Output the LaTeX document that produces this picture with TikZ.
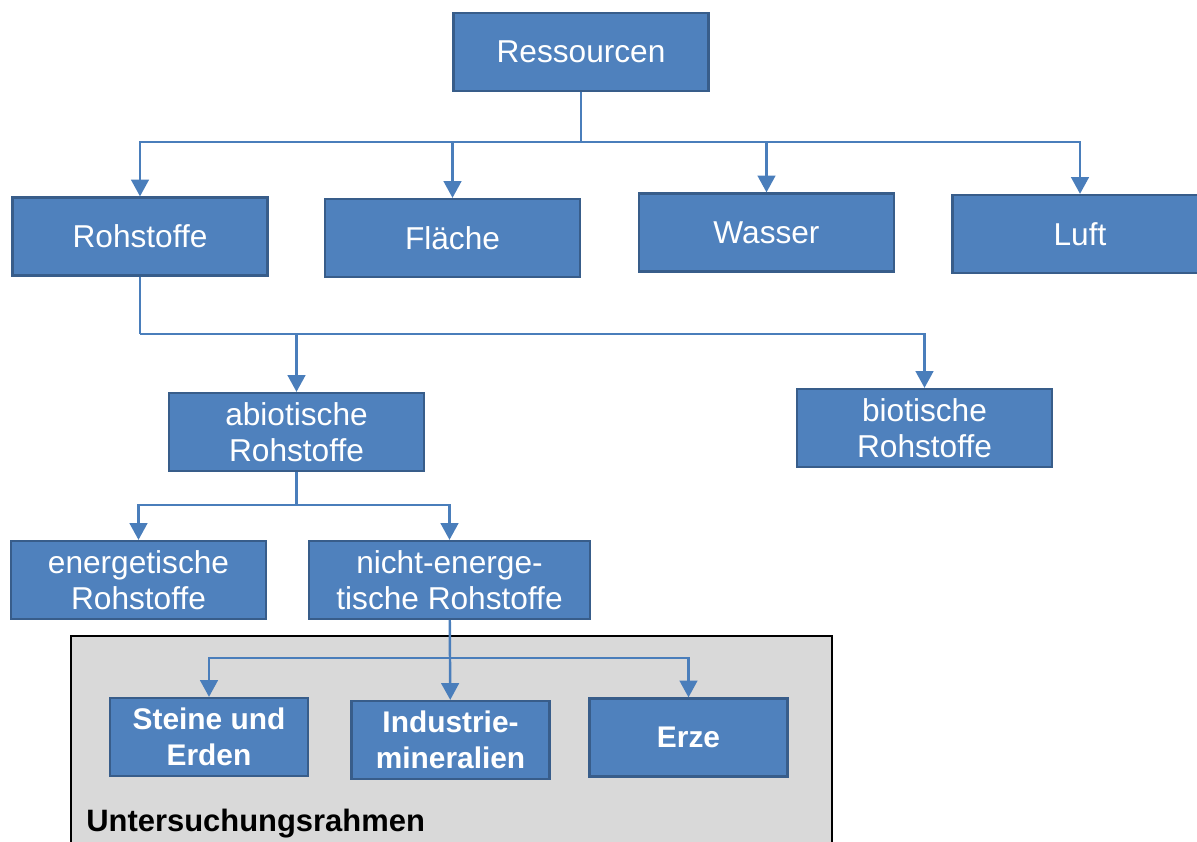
\documentclass[tikz,border=0pt]{standalone}
\usepackage{fontspec}
\setmainfont{Liberation Sans}
\usepackage{tikz}
\usetikzlibrary{arrows.meta}

\definecolor{boxblue}{HTML}{4F81BD}
\definecolor{boxedge}{HTML}{385D8A}
\definecolor{linkblue}{HTML}{4A7EBB}
\definecolor{framegray}{HTML}{D9D9D9}

\tikzset{
    res/.style = {draw = boxedge, line width = 1.3pt, fill = boxblue,
        text = white, align = center, inner sep = 0pt,
        minimum width = 5.1cm, minimum height = 1.56cm,
        font = \fontsize{18}{20.5}\selectfont},
    resb/.style = {res, minimum width = 3.96cm,
        font = \fontsize{17}{20.5}\selectfont\bfseries},
    link/.style = {draw = linkblue, line width = 1.4pt},
    linkto/.style = {link, -{Triangle[length = 9.5pt, width = 10pt]}}
}

\begin{document}
\begin{tikzpicture} [scale = 2]
    \useasboundingbox (0, 0) rectangle (11.97, -8.41);

    \draw[line width = 1.3pt, fill = framegray] (0.71, -6.36) rectangle (8.32, -8.60);
    \node[anchor = base west, inner sep = 0pt,
        font = \fontsize{17.6}{20.5}\selectfont\bfseries] (rahmen)
        at (0.86, -8.31) {Untersuchungsrahmen};

    \node[res] (ressourcen) at (5.81, -0.52) {Ressourcen};
    \node[res] (rohstoffe) at (1.40, -2.365) {Rohstoffe};
    \node[res] (flaeche) at (4.525, -2.38) {Fläche};
    \node[res] (wasser) at (7.665, -2.325) {Wasser};
    \node[res] (luft) at (10.80, -2.34) {Luft};

    \node[res] (abiotisch) at (2.965, -4.32) {abiotische\\Rohstoffe};
    \node[res] (biotisch) at (9.245, -4.28) {biotische\\Rohstoffe};

    \node[res] (energ) at (1.385, -5.80) {energetische\\Rohstoffe};
    \node[res, minimum width = 5.62cm] (nichtenerg) at (4.495, -5.80)
        {nicht-energe-\\tische Rohstoffe};

    \node[resb] (steine) at (2.09, -7.37) {Steine und\\Erden};
    \node[resb] (industrie) at (4.505, -7.40) {Industrie-\\mineralien};
    \node[resb] (erze) at (6.885, -7.375) {Erze};

    \coordinate (ast1) at (5.81, -1.42);
    \coordinate (ast2) at (1.40, -3.34);
    \coordinate (ast3) at (2.965, -5.05);
    \coordinate (ast4) at (4.505, -6.58);

    \draw[link] (ressourcen) -- (ast1);
    \draw[linkto] (ast1) -| (rohstoffe);
    \draw[linkto] (ast1) -| (flaeche);
    \draw[linkto] (ast1) -| (wasser);
    \draw[linkto] (ast1) -| (luft);

    \draw[link] (rohstoffe) -- (ast2);
    \draw[linkto] (ast2) -| (abiotisch);
    \draw[linkto] (ast2) -| (biotisch);

    \draw[link] (abiotisch) -- (ast3);
    \draw[linkto] (ast3) -| (energ);
    \draw[linkto] (ast3) -| (nichtenerg);

    % Untersuchungsrahmen
    \draw[linkto] (nichtenerg) -- (industrie);
    \draw[linkto] (ast4) -| (steine);
    \draw[linkto] (ast4) -| (erze);
\end{tikzpicture}
\end{document}
